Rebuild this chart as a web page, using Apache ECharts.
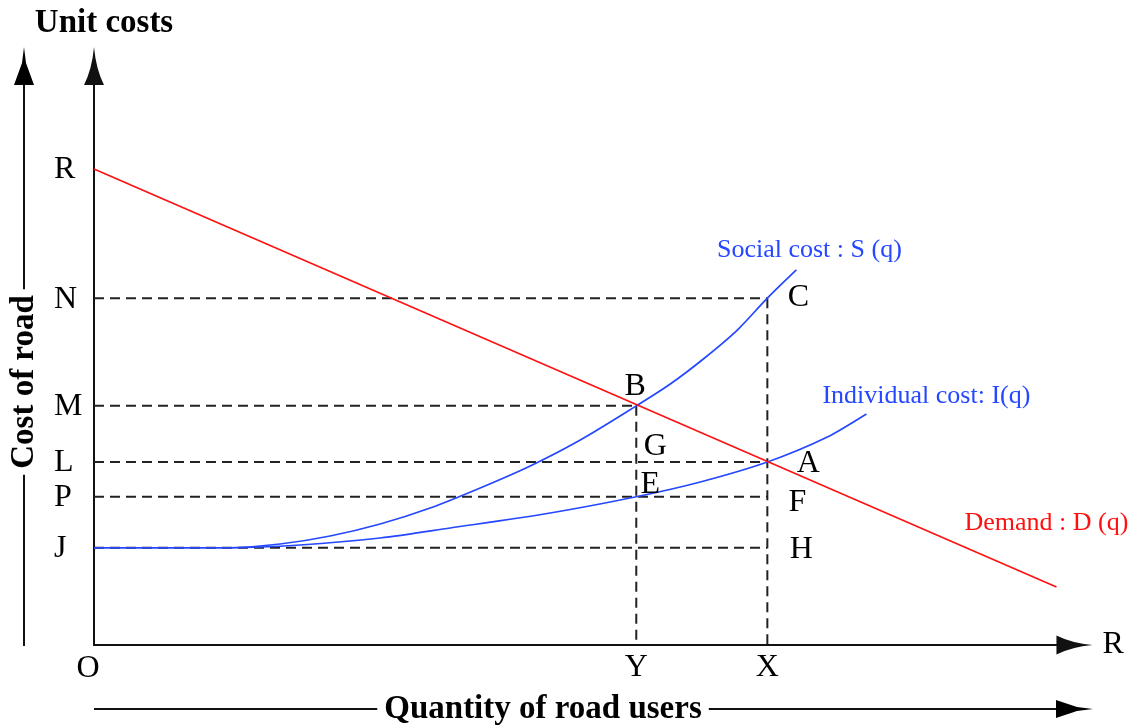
<!DOCTYPE html>
<html>
<head>
<meta charset="utf-8">
<script src="https://cdn.jsdelivr.net/npm/echarts@6/dist/echarts.min.js"></script>
<style>
html,body{margin:0;padding:0;background:#fff;}
#chart{width:1135px;height:725px;}
</style>
</head>
<body>
<div id="chart"></div>
<script>
// ---------- data ----------
const qY = 54.2;   // quantity Y
const qX = 67.3;   // quantity X
const levelNames  = ['R', 'N', 'M', 'L', 'P', 'J'];
const levelValues = [82.2, 59.9, 41.3, 31.6, 25.6, 16.8];

const demand = [[0, 82.2], [96.2, 10.0]];
const socialCost = [[0, 16.8], [13.6, 16.8], [18.6, 17.44], [23.6, 18.83], [28.6, 20.9], [33.6, 23.66],
  [38.6, 27.12], [43.6, 30.92], [48.6, 35.41], [54.2, 41.3], [57.6, 45.08], [60.9, 49.4],
  [64.3, 54.4], [67.3, 59.9], [70.2, 64.77]];
const individualCost = [[0, 16.8], [13.6, 16.8], [20.6, 17.27], [28.6, 18.48], [35.6, 20.21],
  [45.6, 22.8], [54.2, 25.6], [60.6, 28.15], [67.3, 31.6], [73.3, 35.92], [77.2, 39.9]];

const curveNames = ['Social cost : S (q)', 'Individual cost: I(q)', 'Demand : D (q)'];

const pointNames = ['B', 'C', 'A', 'G', 'E', 'F', 'H', 'O', 'Y', 'X'];
const pointX = [qY, qX, qX, qY, qY, qX, qX, 0, qY, qX];
const pointY = [41.3, 59.9, 31.6, 31.6, 25.6, 25.6, 16.8, 0, 0, 0];

// guide lines: from -> to
const guideFrom = [[0, 59.9], [0, 41.3], [0, 31.6], [0, 25.6], [0, 16.8], [qY, 41.3], [qX, 59.9]];
const guideTo   = [[qX, 59.9], [qY, 41.3], [qX, 31.6], [qX, 25.6], [qX, 16.8], [qY, 0], [qX, 0]];

// ---------- styles ----------
const SERIF = '"Liberation Serif", "Times New Roman", serif';
const BLUE = '#2447ff';
const RED = '#ff1010';
const LETTER_SIZE = 32;
const CURVE_LABEL_SIZE = 26;
const pointOffsets = {
  B: [-1, -19], C: [31, -1], A: [41, 2], G: [19, -15], E: [14, -12],
  F: [30, 6], H: [34, 2], O: [-6, 24], Y: [0, 23], X: [0, 23]
};
const curveLabelOffsets = [[13, -20], [60, -18], [-10, -64]];
const arrowPath = 'path://M10,0 Q12,22 20,38 L0,38 Q8,22 10,0 Z';

const chart = echarts.init(document.getElementById('chart'), null, {renderer: 'canvas'});

const series = [];
guideFrom.forEach((p, i) => {
  series.push({
    type: 'line', data: [p, guideTo[i]], showSymbol: false, silent: true,
    lineStyle: {color: '#222', width: 2, type: [10, 6]}, z: 1, animation: false
  });
});
series.push({
  type: 'line', name: curveNames[0], data: socialCost, smooth: 0.3,
  showSymbol: false, lineStyle: {color: BLUE, width: 1.7}, z: 3, animation: false
});
series.push({
  type: 'line', name: curveNames[1], data: individualCost, smooth: 0.3,
  showSymbol: false, lineStyle: {color: BLUE, width: 1.7}, z: 3, animation: false
});
series.push({
  type: 'line', name: curveNames[2], data: demand, showSymbol: false,
  lineStyle: {color: RED, width: 1.6}, z: 3, animation: false
});

// text annotations
const baseLabel = {show: true, position: 'inside', verticalAlign: 'middle', fontFamily: SERIF,
  textBorderWidth: 0, opacity: 1};
const labelData = [];
levelNames.forEach((n, i) => {
  labelData.push({
    value: [0, levelValues[i]],
    label: Object.assign({}, baseLabel, {formatter: n, align: 'left', offset: [-40, 1],
      fontSize: LETTER_SIZE, color: '#000'})
  });
});
pointNames.forEach((n, i) => {
  labelData.push({
    value: [pointX[i], pointY[i]],
    label: Object.assign({}, baseLabel, {formatter: n, align: 'center', offset: pointOffsets[n],
      fontSize: LETTER_SIZE, color: '#000'})
  });
});
const curveEnds = [socialCost[socialCost.length - 1], individualCost[individualCost.length - 1], demand[demand.length - 1]];
const curveColors = [BLUE, BLUE, RED];
curveNames.forEach((n, i) => {
  labelData.push({
    value: curveEnds[i],
    label: Object.assign({}, baseLabel, {formatter: n, align: 'center', offset: curveLabelOffsets[i],
      fontSize: CURVE_LABEL_SIZE, color: curveColors[i]})
  });
});
series.push({
  type: 'scatter', data: labelData, symbolSize: 1, clip: false, silent: true,
  itemStyle: {color: 'rgba(0,0,0,0)', opacity: 1}, z: 5, animation: false
});

const option = {
  backgroundColor: '#fff',
  animation: false,
  grid: {left: 94, right: 60.5, top: 66, bottom: 80, containLabel: false},
  xAxis: {
    type: 'value', min: 0, max: 98,
    name: 'R', nameLocation: 'end', nameGap: 28,
    nameTextStyle: {fontSize: LETTER_SIZE, fontFamily: SERIF, color: '#000', verticalAlign: 'middle'},
    axisLine: {show: true, onZero: false, symbol: ['none', arrowPath], symbolSize: [19, 37],
      lineStyle: {color: '#111', width: 2}},
    axisTick: {show: false}, axisLabel: {show: false}, splitLine: {show: false}
  },
  yAxis: {
    type: 'value', min: 0, max: 100,
    axisLine: {show: true, onZero: false, symbol: ['none', arrowPath], symbolSize: [20, 38],
      lineStyle: {color: '#111', width: 2}},
    axisTick: {show: false}, axisLabel: {show: false}, splitLine: {show: false}
  },
  graphic: [
    {type: 'text', x: 104, y: 23, z: 10,
      style: {text: 'Unit costs', font: 'bold 33px ' + SERIF, fill: '#000', align: 'center', verticalAlign: 'middle'}},
    {type: 'line', shape: {x1: 24, y1: 646, x2: 24, y2: 70}, style: {stroke: '#111', lineWidth: 2}, z: 1},
    {type: 'polygon', shape: {points: [[24, 47], [26, 63], [34, 85], [14, 85], [22, 63]]}, style: {fill: '#000'}, z: 2},
    {type: 'text', x: 24, y: 382, rotation: Math.PI / 2, z: 3,
      style: {text: 'Cost of road', font: 'bold 33px ' + SERIF, fill: '#000', align: 'center', verticalAlign: 'middle',
        backgroundColor: '#fff', padding: [0, 6]}},
    {type: 'line', shape: {x1: 94, y1: 709, x2: 1070, y2: 709}, style: {stroke: '#111', lineWidth: 2}, z: 1},
    {type: 'polygon', shape: {points: [[1093, 709], [1077, 707], [1056, 700], [1056, 718], [1077, 711]]}, style: {fill: '#000'}, z: 2},
    {type: 'text', x: 543, y: 709, z: 3,
      style: {text: 'Quantity of road users', font: 'bold 33px ' + SERIF, fill: '#000', align: 'center', verticalAlign: 'middle',
        backgroundColor: '#fff', padding: [0, 7]}}
  ],
  series: series
};
chart.setOption(option);
</script>
</body>
</html>
